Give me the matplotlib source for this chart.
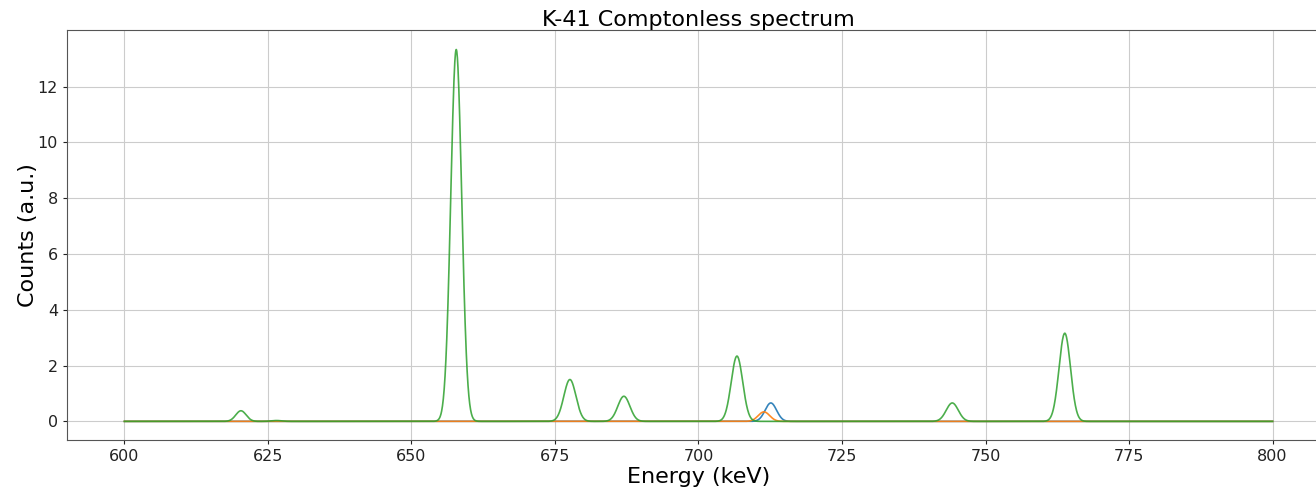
import numpy as np
import matplotlib
matplotlib.use("Agg")
import matplotlib.pyplot as plt

# Peak parameters (keV, a.u., keV)
blue_centers = [712.6]
blue_heights = [0.66]
blue_sigmas = [1.0]

orange_centers = [711.4]
orange_heights = [0.34]
orange_sigmas = [1.0]

green_centers = [620.3, 626.5, 657.8, 677.6, 687.0, 706.7, 744.2, 763.8]
green_heights = [0.38, 0.03, 13.33, 1.50, 0.90, 2.34, 0.66, 3.16]
green_sigmas = [0.9, 0.9, 0.95, 1.05, 1.05, 1.0, 1.05, 1.0]

energy_min, energy_max, n_points = 600, 800, 4001

energy = np.linspace(energy_min, energy_max, n_points)


def spectrum(centers, heights, sigmas):
    y = np.zeros_like(energy)
    for c, h, s in zip(centers, heights, sigmas):
        y += h * np.exp(-0.5 * ((energy - c) / s) ** 2)
    return y


W, H = 1316, 488
fig = plt.figure(figsize=(W / 100, H / 100), dpi=100)
ax = fig.add_axes([67 / W, 1 - 440 / H, (1330 - 67) / W, (440 - 30) / H])

ax.plot(energy, spectrum(blue_centers, blue_heights, blue_sigmas), color="#1f77b4", lw=1.2, alpha=0.9)
ax.plot(energy, spectrum(orange_centers, orange_heights, orange_sigmas), color="#ff7f0e", lw=1.2, alpha=0.9)
ax.plot(energy, spectrum(green_centers, green_heights, green_sigmas), color="#2ca02c", lw=1.2, alpha=0.85)

ax.set_xlim(590, 810)
ax.set_ylim(-0.668, 14.03)
ax.set_xticks([600, 625, 650, 675, 700, 725, 750, 775, 800])
ax.set_yticks([0, 2, 4, 6, 8, 10, 12])
ax.grid(True, color="#cccccc", lw=0.8)
ax.set_axisbelow(True)
for sp in ax.spines.values():
    sp.set_color("#555555")
ax.tick_params(labelsize=11.5, colors="#222222", length=3)
ax.set_title("K-41 Comptonless spectrum", fontsize=16, pad=3)
ax.set_xlabel("Energy (keV)", fontsize=16, labelpad=2)
ax.set_ylabel("Counts (a.u.)", fontsize=16, labelpad=0)

fig.savefig("out.png", dpi=100)
